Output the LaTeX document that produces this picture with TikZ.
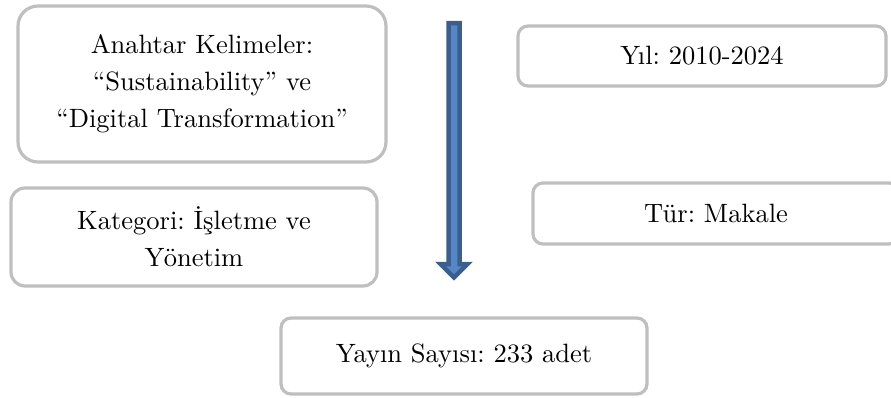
\documentclass[tikz,border=0pt]{standalone}
\usepackage{fontspec}
\setmainfont{lmroman10-regular}[Extension=.otf]
\frenchspacing
\definecolor{boxgray}{HTML}{BFBFBF}
\definecolor{arrdark}{HTML}{3B5E8C}
\definecolor{arrlight}{HTML}{5587C7}
\begin{document}
\begin{tikzpicture}[x=1pt,y=-1pt,
  box/.style={draw=boxgray,line width=3.2pt,fill=white,align=center,inner sep=0pt,
    font=\fontsize{26.5}{37}\selectfont},
]
\useasboundingbox (0,0) rectangle (891,397);
\node[box,rounded corners=20pt,minimum width=368pt,minimum height=156pt] (kw) at (202,84) {Anahtar Kelimeler:\\``Sustainability'' ve\\``Digital Transformation''};
\node[box,rounded corners=14pt,minimum width=366pt,minimum height=98pt] (kat) at (194,237) {Kategori: İşletme ve\\Yönetim};
\node[box,rounded corners=10pt,minimum width=368pt,minimum height=60pt] (yil) at (702,56) {Yıl: 2010-2024};
\node[box,rounded corners=10pt,minimum width=366pt,minimum height=61pt] (tur) at (716,213.5) {Tür: Makale};
\node[box,rounded corners=10pt,minimum width=366pt,minimum height=76pt] (yay) at (464,356) {Yayın Sayısı: 233 adet};
\draw[draw=arrdark,fill=arrlight,line width=4.5pt,line join=miter]
  (448.5,23) -- (459.5,23) -- (459.5,264) -- (467.5,264) -- (454,277.5) -- (440.5,264) -- (448.5,264) -- cycle;
\end{tikzpicture}
\end{document}
